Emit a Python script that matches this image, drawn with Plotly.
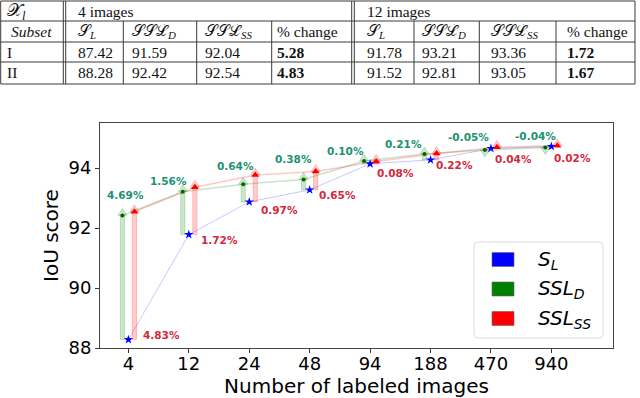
import plotly.graph_objects as go

# ---- chart data ----
n_labeled = ['4', '12', '24', '48', '94', '188', '470', '940']
iou_sl = [88.28, 91.78, 92.87, 93.27, 94.14, 94.27, 94.65, 94.72]
iou_ssl_d = [92.42, 93.21, 93.46, 93.62, 94.23, 94.47, 94.60, 94.68]
iou_ssl_ss = [92.54, 93.36, 93.77, 93.88, 94.22, 94.48, 94.69, 94.74]
gain_d = ['4.69%', '1.56%', '0.64%', '0.38%', '0.10%', '0.21%', '-0.05%', '-0.04%']
gain_ss = ['4.83%', '1.72%', '0.97%', '0.65%', '0.08%', '0.22%', '0.04%', '0.02%']

# ---- table data ----
subsets = ['I', 'II']
sl_4 = [87.42, 88.28]
d_4 = [91.59, 92.42]
ss_4 = [92.04, 92.54]
chg_4 = [5.28, 4.83]
sl_12 = [91.78, 91.52]
d_12 = [93.21, 92.81]
ss_12 = [93.36, 93.05]
chg_12 = [1.72, 1.67]

# label nudges in pixels (dx, dy-up) so the text sits like in the original
shift_d = [(3, 20), (-14, 11), (-8, 18), (-10, 20), (-19, 10), (-21, 10), (-16, 13), (-10, 12)]
shift_ss = [(33, 5), (31, -5), (30, -8), (28, -5), (25, -9), (24, -5), (23, -10), (21, -12)]

GREEN_TXT = '#1b9272'
RED_TXT = '#d4283c'

# plot area in pixels
L, R, T, B = 100, 613, 123, 348
W, H = R - L, B - T


def px(x):
    return (x - L) / W


def py(y):
    return (B - y) / H


xs = list(range(len(n_labeled)))
off = 0.1
x_d = [x - off for x in xs]
x_ss = [x + off for x in xs]

# arrow sizes in data units
shaft_w = 0.07
head_w = 0.15
head_l = 0.23


def arrows(xpos, y0s, y1s):
    ax, ay = [], []
    for x, y0, y1 in zip(xpos, y0s, y1s):
        s = 1 if y1 >= y0 else -1
        ax += [x - shaft_w / 2, x + shaft_w / 2, x + shaft_w / 2, x + head_w / 2, x,
               x - head_w / 2, x - shaft_w / 2, x - shaft_w / 2, None]
        ay += [y0, y0, y1, y1, y1 + s * head_l, y1, y1, y0, None]
    return ax, ay


fig = go.Figure()

gx, gy = arrows(x_d, iou_sl, iou_ssl_d)
fig.add_trace(go.Scatter(x=gx, y=gy, mode='lines', fill='toself',
                         fillcolor='rgba(0,128,0,0.2)',
                         line=dict(color='rgba(0,128,0,0.2)', width=1),
                         hoverinfo='skip', showlegend=False))
rx, ry = arrows(x_ss, iou_sl, iou_ssl_ss)
fig.add_trace(go.Scatter(x=rx, y=ry, mode='lines', fill='toself',
                         fillcolor='rgba(255,0,0,0.2)',
                         line=dict(color='rgba(255,0,0,0.2)', width=1),
                         hoverinfo='skip', showlegend=False))

# faint connecting lines + markers
fig.add_trace(go.Scatter(x=xs, y=iou_sl, mode='lines',
                         line=dict(color='rgba(0,0,255,0.22)', width=1),
                         showlegend=False))
fig.add_trace(go.Scatter(x=x_d, y=iou_ssl_d, mode='lines',
                         line=dict(color='rgba(0,128,0,0.22)', width=1.5),
                         showlegend=False))
fig.add_trace(go.Scatter(x=x_ss, y=iou_ssl_ss, mode='lines',
                         line=dict(color='rgba(255,0,0,0.22)', width=1.5),
                         showlegend=False))
fig.add_trace(go.Scatter(x=xs, y=iou_sl, mode='markers', name='S_L',
                         marker=dict(symbol='star', size=7, color='blue'),
                         showlegend=False))
fig.add_trace(go.Scatter(x=x_d, y=iou_ssl_d, mode='markers', name='SSL_D',
                         marker=dict(symbol='circle', size=4, color='#006400'),
                         showlegend=False))
fig.add_trace(go.Scatter(x=x_ss, y=iou_ssl_ss, mode='markers', name='SSL_SS',
                         marker=dict(symbol='triangle-up', size=7, color='red'),
                         showlegend=False))

# percentage labels
for i in xs:
    fig.add_annotation(x=x_d[i], y=iou_ssl_d[i], text=gain_d[i], showarrow=False,
                       xshift=shift_d[i][0], yshift=shift_d[i][1],
                       font=dict(family='DejaVu Sans', size=10.5, color=GREEN_TXT, weight='bold'))
    fig.add_annotation(x=xs[i], y=iou_sl[i], text=gain_ss[i], showarrow=False,
                       xshift=shift_ss[i][0], yshift=shift_ss[i][1],
                       font=dict(family='DejaVu Sans', size=10.5, color=RED_TXT, weight='bold'))

shapes = []

# custom legend box
lx0, lx1, ly0, ly1, rr = 474, 603, 242, 338, 4
path = (f'M {px(lx0 + rr)},{py(ly0)} L {px(lx1 - rr)},{py(ly0)} '
        f'Q {px(lx1)},{py(ly0)} {px(lx1)},{py(ly0 + rr)} L {px(lx1)},{py(ly1 - rr)} '
        f'Q {px(lx1)},{py(ly1)} {px(lx1 - rr)},{py(ly1)} L {px(lx0 + rr)},{py(ly1)} '
        f'Q {px(lx0)},{py(ly1)} {px(lx0)},{py(ly1 - rr)} L {px(lx0)},{py(ly0 + rr)} '
        f'Q {px(lx0)},{py(ly0)} {px(lx0 + rr)},{py(ly0)} Z')
shapes.append(dict(type='path', xref='paper', yref='paper', path=path,
                   line=dict(color='#dcdcdc', width=1), fillcolor='rgba(255,255,255,0.8)'))
leg_names = ['<i>S<sub>L</sub></i>', '<i>SSL<sub>D</sub></i>', '<i>SSL<sub>SS</sub></i>']
leg_cols = ['#0000ff', '#008000', '#ff0000']
for k, (nm, c) in enumerate(zip(leg_names, leg_cols)):
    yc = 259.5 + k * 29.5
    shapes.append(dict(type='rect', xref='paper', yref='paper',
                       x0=px(492), x1=px(514), y0=py(yc + 7), y1=py(yc - 7),
                       fillcolor=c, line=dict(color='#666', width=0.6)))
    fig.add_annotation(xref='paper', yref='paper', x=px(536), y=py(yc), text=nm,
                       showarrow=False, xanchor='left', yanchor='middle',
                       font=dict(family='DejaVu Sans', size=20, color='black'))

# ---- table above the plot ----
tl, tr = 0.7, 635
rows_y = [1, 21, 42, 62, 84]
row_c = [11.5, 31, 52.5, 72.5]
tcol = '#3a3a3a'


def hline(y, x0=tl, x1=tr):
    shapes.append(dict(type='line', xref='paper', yref='paper', x0=px(x0), x1=px(x1),
                       y0=py(y), y1=py(y), line=dict(color=tcol, width=1)))


def vline(x, y0=rows_y[0], y1=rows_y[-1]):
    shapes.append(dict(type='line', xref='paper', yref='paper', x0=px(x), x1=px(x),
                       y0=py(y0), y1=py(y1), line=dict(color=tcol, width=1)))


for y in rows_y:
    hline(y)
for x in [tl, 63.3, 65.7, 351.7, 354.3, tr]:
    vline(x)
for x in [123.3, 196.7, 271.7, 414, 479.3, 556]:
    vline(x, rows_y[1], rows_y[-1])

col_x = [5, 76, 130, 203, 275, 365, 420, 489, 565]


def cell(x, y, txt, size=15.5, bold=False):
    fig.add_annotation(xref='paper', yref='paper', x=px(x), y=py(y), text=txt,
                       showarrow=False, xanchor='left', yanchor='middle',
                       font=dict(family='Liberation Serif', size=size, color='#111',
                                 weight='bold' if bold else 'normal'))


cell(col_x[0], row_c[0], '𝒳<sub><i>l</i></sub>', size=18)
cell(col_x[1], row_c[0], '4 images')
cell(col_x[5], row_c[0], '12 images')
cell(col_x[0] + 4, row_c[1], '<i>Subset</i>')
hdr = ['𝒮<sub><i>L</i></sub>', '𝒮𝒮ℒ<sub><i>D</i></sub>', '𝒮𝒮ℒ<sub><i>SS</i></sub>', '% change']
for j, h in enumerate(hdr):
    cell(col_x[1 + j], row_c[1], h)
    cell(col_x[5 + j], row_c[1], h)
for r, s in enumerate(subsets):
    yc = row_c[2 + r]
    cell(col_x[0], yc, s)
    vals = [sl_4[r], d_4[r], ss_4[r], chg_4[r], sl_12[r], d_12[r], ss_12[r], chg_12[r]]
    for j, v in enumerate(vals):
        cell(col_x[1 + j], yc, f'{v:.2f}', bold=(j in (3, 7)))

fig.update_layout(
    width=640, height=398, autosize=False,
    margin=dict(l=L, r=640 - R, t=T, b=398 - B, pad=0),
    plot_bgcolor='white', paper_bgcolor='white',
    shapes=shapes,
    xaxis=dict(range=[-0.47, 8.02], tickmode='array', tickvals=xs, ticktext=n_labeled,
               automargin=False, ticklabelstandoff=-5,
               showline=True, mirror=True, linecolor='#444', linewidth=1,
               ticks='outside', ticklen=4, tickcolor='#333', showgrid=False, zeroline=False,
               tickfont=dict(family='DejaVu Sans', size=18, color='black'),
               title=dict(text='Number of labeled images', standoff=9,
                          font=dict(family='DejaVu Sans', size=20, color='black'))),
    yaxis=dict(range=[88, 95.5], tickvals=[88, 90, 92, 94],
               automargin=False,
               showline=True, mirror=True, linecolor='#444', linewidth=1,
               ticks='outside', ticklen=4, tickcolor='#333', showgrid=False, zeroline=False,
               tickfont=dict(family='DejaVu Sans', size=18, color='black'),
               title=dict(text='IoU score', standoff=4,
                          font=dict(family='DejaVu Sans', size=20, color='black'))),
)

# the default page has an 8px body margin; drop it so the figure sits at 0,0
fig.write_html('out.html', config={'displayModeBar': False},
               post_script="document.body.style.margin='0';")
